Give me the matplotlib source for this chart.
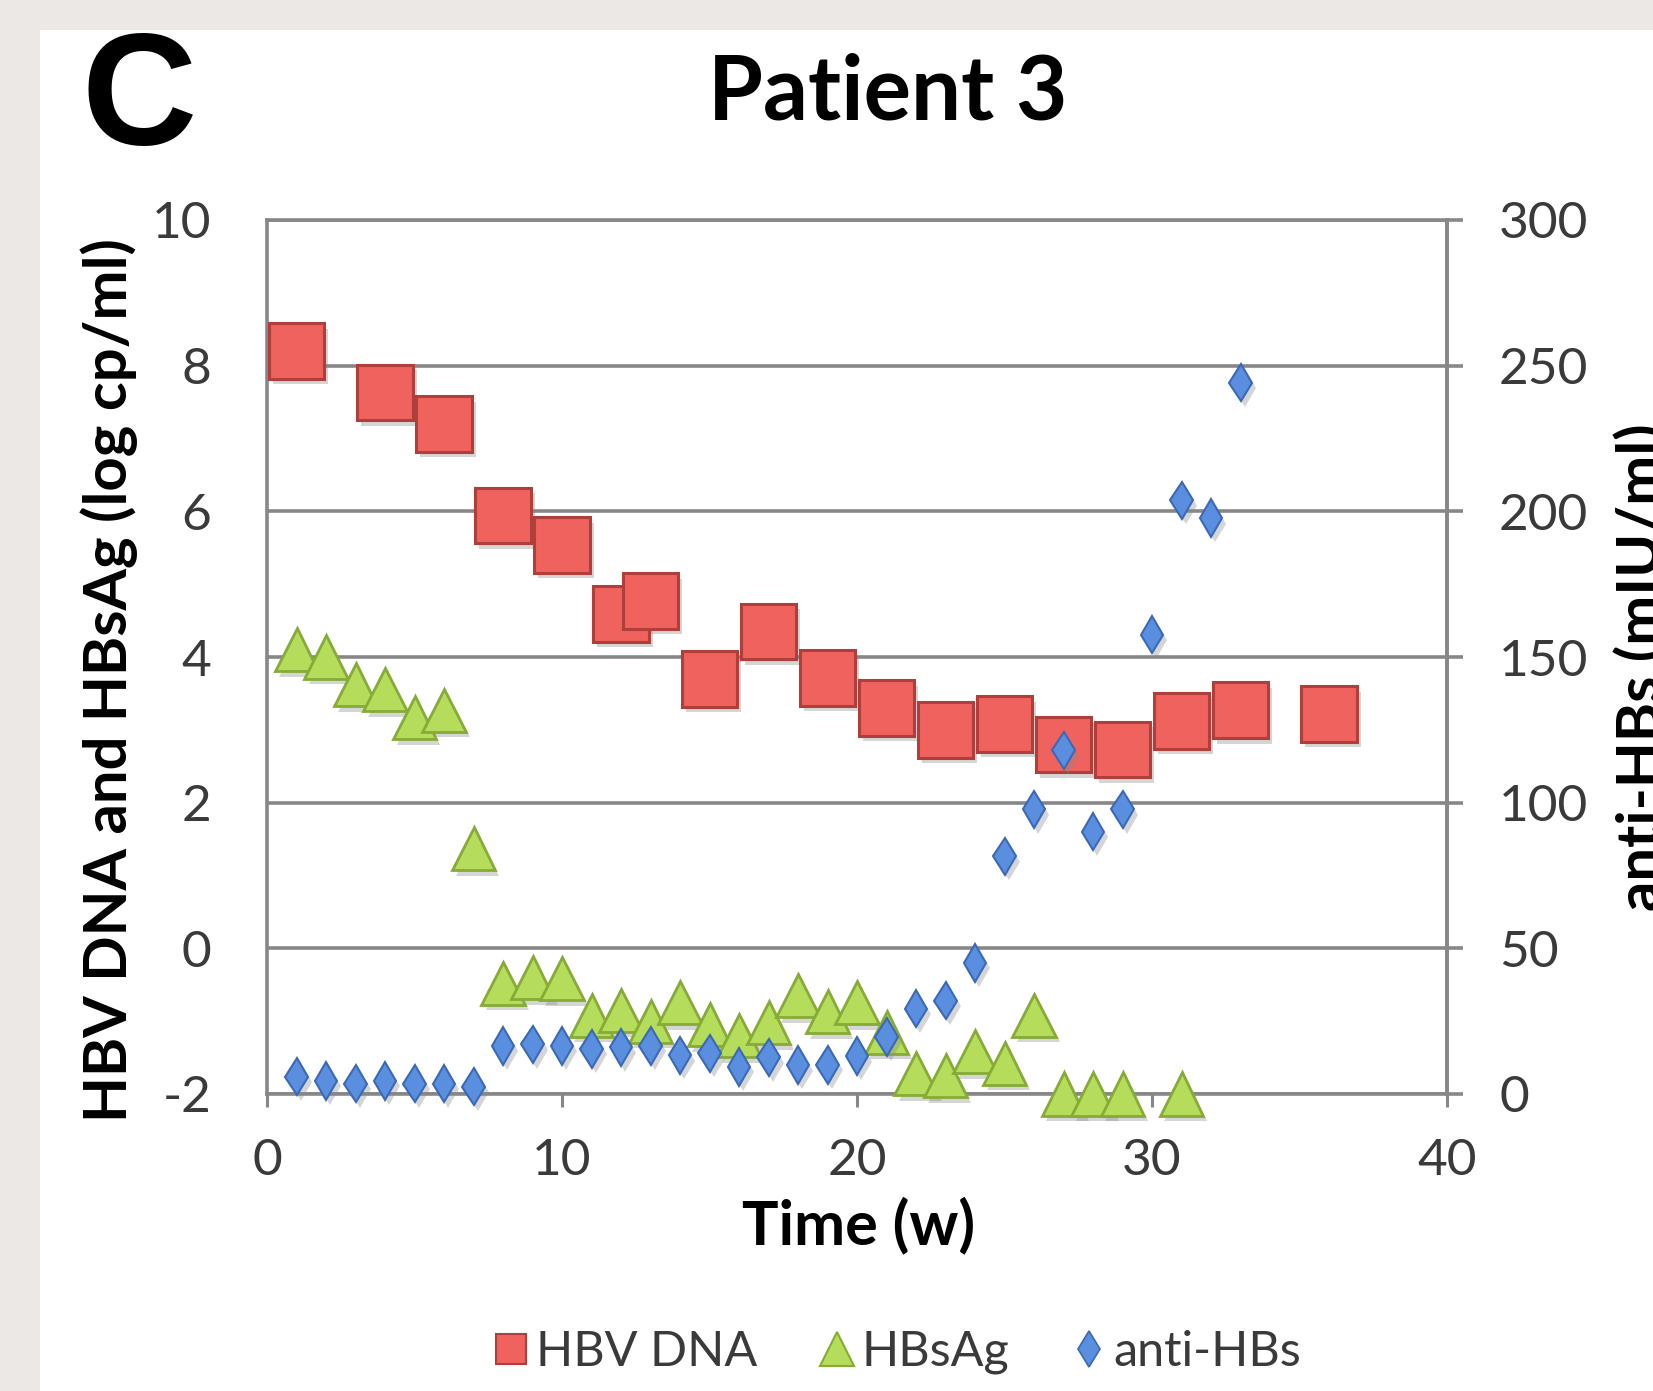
import matplotlib
matplotlib.use("Agg")
import matplotlib.pyplot as plt
import matplotlib.patheffects as pe
from matplotlib.lines import Line2D
from matplotlib.patches import Rectangle

plt.rcParams['font.family'] = ['Lato', 'DejaVu Sans']
plt.rcParams['axes.unicode_minus'] = False

# data
dna_weeks = [1, 4, 6, 8, 10, 12, 13, 15, 17, 19, 21, 23, 25, 27, 29, 31, 33, 36]
dna_log = [8.2, 7.63, 7.2, 5.94, 5.54, 4.59, 4.77, 3.7, 4.35, 3.71, 3.3, 3.0, 3.08,
           2.8, 2.73, 3.12, 3.27, 3.22]

hbsag_weeks = list(range(1, 30)) + [31]
hbsag_log = [4.1, 4.0, 3.62, 3.55, 3.17, 3.27, 1.37, -0.48, -0.4, -0.42, -0.92, -0.85,
             -1.0, -0.75, -1.05, -1.2, -1.02, -0.65, -0.87, -0.75, -1.15, -1.72, -1.75,
             -1.42, -1.58, -0.92, -2.0, -2.0, -2.0, -2.0]

antihbs_weeks = list(range(1, 34))
antihbs_miu = [6, 4.5, 3.5, 4.5, 3.5, 3.5, 2.5, 16.5, 17, 16.5, 15.5, 16, 16.5, 13.3,
               14, 9.3, 12.6, 9.9, 10, 13, 19.6, 29.3, 32, 45, 81.6, 97.7, 118, 90,
               97.7, 157.7, 203.8, 197.7, 244.2]

x_ticks = [0, 10, 20, 30, 40]
left_ticks = [-2, 0, 2, 4, 6, 8, 10]
right_ticks = [0, 50, 100, 150, 200, 250, 300]

W, H = 1653, 1391
fig = plt.figure(figsize=(W / 100, H / 100), dpi=100)
fig.patch.set_facecolor('#ebe8e5')
fig.patches.append(Rectangle((40 / W, 0), 1, 1 - 30 / H, transform=fig.transFigure,
                             facecolor='white', edgecolor='none', zorder=-1))

grid_c = '#878787'
txt_c = '#3a3a3a'
shadow = [pe.SimplePatchShadow(offset=(3, -4), shadow_rgbFace='#888888', alpha=0.35), pe.Normal()]

ax = fig.add_axes([267 / W, 1 - 1094 / H, 1180 / W, 874 / H])
ax.set_xlim(0, 40)
ax.set_ylim(-2, 10)
ax.set_xticks(x_ticks)
ax.set_yticks(left_ticks)
ax.yaxis.grid(True, color=grid_c, linewidth=2.6)
ax.set_axisbelow(True)
for s in ['top', 'bottom', 'left', 'right']:
    ax.spines[s].set_color(grid_c)
    ax.spines[s].set_linewidth(2.6)
ax.tick_params(axis='x', direction='out', length=9.5, width=2.2, color=grid_c,
               labelsize=37, labelcolor=txt_c, pad=22)
ax.tick_params(axis='y', length=0, labelsize=37, labelcolor=txt_c, pad=40)

ax.plot(dna_weeks, dna_log, linestyle='none', marker='s', markersize=40,
        markerfacecolor='#ef625d', markeredgecolor='#b03e3a', markeredgewidth=2.2,
        path_effects=shadow, zorder=3)
ax.plot(hbsag_weeks, hbsag_log, linestyle='none', marker='^', markersize=31,
        markerfacecolor='#b5dc5a', markeredgecolor='#86ab36', markeredgewidth=2,
        path_effects=shadow, zorder=3, clip_on=False)

ax2 = ax.twinx()
ax2.set_ylim(0, 300)
ax2.set_yticks(right_ticks)
ax2.spines['right'].set_color(grid_c)
ax2.spines['right'].set_linewidth(2.6)
for s in ['top', 'bottom', 'left']:
    ax2.spines[s].set_visible(False)
ax2.tick_params(axis='y', direction='out', length=11.5, width=2.6, color=grid_c,
                labelsize=37, labelcolor=txt_c, pad=26)
ax2.plot(antihbs_weeks, antihbs_miu, linestyle='none', marker='d', markersize=19,
         markerfacecolor='#5a8fe0', markeredgecolor='#3b69b5', markeredgewidth=1.5,
         path_effects=shadow, zorder=4, clip_on=False)

# labels
fig.text(139 / W, 1 - 103 / H, 'C', fontsize=115, fontweight='bold',
         family=['Liberation Sans', 'DejaVu Sans'], ha='center', va='center')
fig.text(888 / W, 1 - 93 / H, 'Patient 3', fontsize=64, fontweight='bold',
         ha='center', va='center')
fig.text(859 / W, 1 - 1225 / H, 'Time (w)', fontsize=44, fontweight='bold',
         ha='center', va='center')
fig.text(109 / W, 1 - 680 / H, 'HBV DNA and HBsAg (log cp/ml)', fontsize=43,
         fontweight='bold', rotation=90, ha='center', va='center')
fig.text(1614 / W, 1 - 667 / H, 'anti-HBs (mIU/ml)', fontsize=43,
         fontweight='bold', rotation=90, ha='left', va='center')

handles = [
    Line2D([], [], linestyle='none', marker='s', markersize=22, markerfacecolor='#ef625d',
           markeredgecolor='#b03e3a', markeredgewidth=1.5),
    Line2D([], [], linestyle='none', marker='^', markersize=24, markerfacecolor='#b5dc5a',
           markeredgecolor='#86ab36', markeredgewidth=1.5),
    Line2D([], [], linestyle='none', marker='d', markersize=18, markerfacecolor='#5a8fe0',
           markeredgecolor='#3b69b5', markeredgewidth=1.2),
]
leg = fig.legend(handles, ['HBV DNA', 'HBsAg', 'anti-HBs'], loc='center',
                 bbox_to_anchor=(898 / W, 1 - 1352 / H), ncol=3, frameon=False,
                 fontsize=35, handlelength=0.7, handletextpad=0.15, columnspacing=1.3)
for t in leg.get_texts():
    t.set_color(txt_c)

fig.savefig('out.png', dpi=100)
